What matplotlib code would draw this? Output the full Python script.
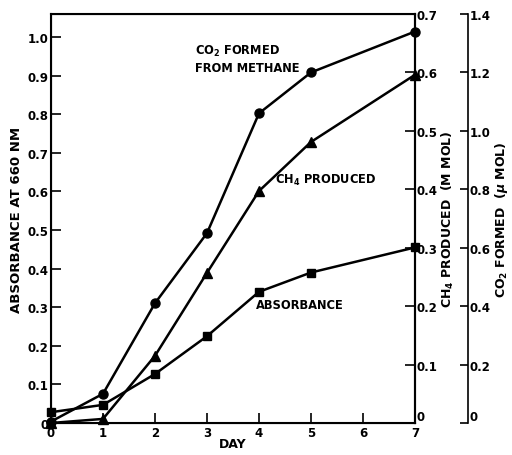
import matplotlib
matplotlib.use("Agg")
import matplotlib.pyplot as plt

# Data
days = [0, 1, 2, 3, 4, 5, 7]
absorbance = [0.028, 0.047, 0.127, 0.225, 0.340, 0.390, 0.455]      # left axis
ch4_produced = [0.0, 0.007, 0.115, 0.257, 0.397, 0.481, 0.596]      # M MOL
co2_formed = [0.005, 0.10, 0.41, 0.65, 1.06, 1.20, 1.34]            # u MOL

plt.rcParams['font.family'] = ['DejaVu Sans']
plt.rcParams['font.weight'] = 'bold'

fig = plt.figure(figsize=(5.12, 4.56), dpi=100)
ax = fig.add_axes([51/512, 1 - 424/456, 364/512, 409/456])

# Absorbance (squares)
ax.plot(days, absorbance, color='black', lw=1.8, marker='s', ms=5.5, clip_on=False, zorder=3)
ax.set_xlim(0, 7)
ax.set_ylim(0, 1.06)
ax.set_xticks(range(8))
ax.set_yticks([0, 0.1, 0.2, 0.3, 0.4, 0.5, 0.6, 0.7, 0.8, 0.9, 1.0])
ax.set_yticklabels(['0', '0.1', '0.2', '0.3', '0.4', '0.5', '0.6', '0.7', '0.8', '0.9', '1.0'])
ax.tick_params(direction='in', length=7, width=1.2, labelsize=8.5)
ax.tick_params(axis='x', pad=2)
ax.tick_params(axis='y', pad=2)
ax.set_xlabel('DAY', fontsize=9, fontweight='bold', labelpad=-1)
ax.set_ylabel('ABSORBANCE AT 660 NM', fontsize=9.5, fontweight='bold', labelpad=3)
for s in ax.spines.values():
    s.set_linewidth(1.5)

# CH4 produced (triangles)
ax2 = ax.twinx()
ax2.plot(days, ch4_produced, color='black', lw=1.8, marker='^', ms=6.5, clip_on=False, zorder=3)
ax2.set_ylim(0, 0.7)
ax2.set_yticks([0, 0.1, 0.2, 0.3, 0.4, 0.5, 0.6, 0.7])
ax2.set_yticklabels(['0', '0.1', '0.2', '0.3', '0.4', '0.5', '0.6', '0.7'])
ax2.tick_params(direction='in', length=7, width=1.2, labelsize=8.5, pad=1)
ax2.set_ylabel('CH$_4$ PRODUCED  (M MOL)', fontsize=9, fontweight='bold', labelpad=2)
ax2.spines['right'].set_linewidth(1.5)
ax2.get_yticklabels()[0].set_va('bottom')

# CO2 formed (circles)
ax3 = ax.twinx()
ax3.spines['right'].set_position(('axes', 1.146))
ax3.spines['right'].set_linewidth(1.2)
for side in ['top', 'bottom', 'left']:
    ax3.spines[side].set_visible(False)
ax3.plot(days, co2_formed, color='black', lw=1.8, marker='o', ms=6.5, clip_on=False, zorder=3)
ax3.set_ylim(0, 1.4)
ax3.set_yticks([0, 0.2, 0.4, 0.6, 0.8, 1.0, 1.2, 1.4])
ax3.set_yticklabels(['0', '0.2', '0.4', '0.6', '0.8', '1.0', '1.2', '1.4'])
ax3.tick_params(direction='in', length=6, width=1.2, labelsize=8.5, pad=1)
ax3.set_ylabel('CO$_2$ FORMED  ($\\mu$ MOL)', fontsize=9, fontweight='bold', labelpad=2)
ax3.get_yticklabels()[0].set_va('bottom')

# Curve labels
ax.text(2.77, 0.985, 'CO$_2$ FORMED\nFROM METHANE', fontsize=8.3, fontweight='bold',
        ha='left', va='top', linespacing=1.3)
ax.text(4.3, 0.63, 'CH$_4$ PRODUCED', fontsize=8.3, fontweight='bold', ha='left', va='center')
ax.text(3.94, 0.308, 'ABSORBANCE', fontsize=8.3, fontweight='bold', ha='left', va='center')

fig.savefig('out.png', dpi=100)
